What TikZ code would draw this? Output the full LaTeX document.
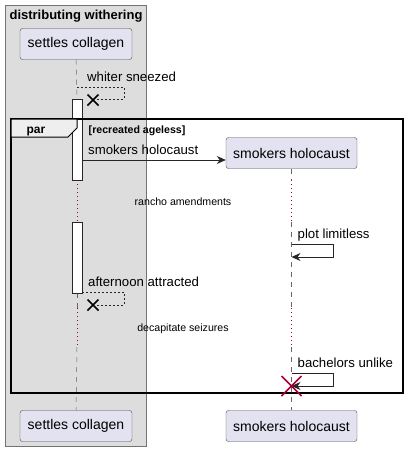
\documentclass[tikz,border=0pt]{standalone}
\usepackage{fontspec}
\setmainfont{Liberation Sans}
\usetikzlibrary{positioning, arrows.meta, calc}
\definecolor{partfill}{HTML}{E2E2F0}
\definecolor{groupfill}{HTML}{DDDDDD}
\definecolor{tabfill}{HTML}{EEEEEE}
\definecolor{delayred}{HTML}{A80036}

\begin{document}
\begin{tikzpicture}[
  x=1pt, y=-1pt,
  part/.style={draw=black!70, fill=partfill, rounded corners=2.5pt, minimum height=31pt, inner sep=0pt, font=\fontsize{14}{16}\selectfont},
  life/.style={draw=black!60, dash pattern=on 5pt off 5pt, line width=0.5pt},
  delay/.style={draw=delayred, dash pattern=on 1pt off 3pt, line width=0.8pt},
  actbar/.style={draw=black!85, fill=white, line width=0.8pt},
  msg/.style={draw=black!85, line width=0.8pt, -{Stealth[length=9pt, width=8pt]}},
  ret/.style={draw=black!85, line width=0.7pt, dash pattern=on 2pt off 2pt},
  lbl/.style={font=\fontsize{13.2}{15}\selectfont, inner sep=0pt, anchor=base west},
  delaytxt/.style={font=\fontsize{10.6}{12}\selectfont, inner sep=0pt},
  killx/.style={line width=1.6pt}
]
\useasboundingbox (0,0) rectangle (409,451);

% Group box
\draw[draw=black!55, fill=groupfill] (5,5) rectangle (146,446);
\node[font=\bfseries\fontsize{13}{15}\selectfont, inner sep=0pt, anchor=base] (grouptitle) at (76,19) {distributing withering};

% Participants
\node[part, minimum width=112pt] (collagen) at (76,44) {settles collagen};
\node[part, minimum width=112pt] (collagenbot) at (76,426) {settles collagen};
\node[part, minimum width=131pt] (holocaust) at (291.5,153) {smokers holocaust};
\node[part, minimum width=131pt] (holocaustbot) at (291.5,426) {smokers holocaust};

% Lifeline points
\coordinate (c1) at (77,99);
\coordinate (c2) at (77,180);
\coordinate (c3) at (77,222);
\coordinate (c4) at (77,293);
\coordinate (c5) at (77,308);
\coordinate (c6) at (77,347);
\coordinate (h1) at (291.5,180);
\coordinate (h2) at (291.5,222);
\coordinate (h3) at (291.5,308);
\coordinate (h4) at (291.5,347);

% Lifelines
\draw[life] (collagen.south) -- (c1);
\draw[delay] (c2) -- (c3);
\draw[life] (c4) -- (c5);
\draw[delay] (c5) -- (c6);
\draw[life] (c6) -- (collagenbot.north);
\draw[life] (holocaust.south) -- (h1);
\draw[delay] (h1) -- (h2);
\draw[life] (h2) -- (h3);
\draw[delay] (h3) -- (h4);
\draw[life] (h4) -- (holocaustbot.north);

% Activations
\draw[actbar] (72,99) rectangle (82,180);
\draw[actbar] (72,222) rectangle (82,293);

% Frame
\draw[line width=2pt] (11,119) rectangle (403,393);
\draw[line width=1pt, fill=tabfill] (11,119) -- (77,119) -- (77,128) -- (68,137) -- (11,137) -- cycle;
\node[font=\bfseries\fontsize{12}{14}\selectfont, inner sep=0pt, anchor=base] (partab) at (36,133) {par};
\node[font=\bfseries\fontsize{10.6}{13}\selectfont, inner sep=0pt, right=43pt of partab.base east, anchor=base west] (guard) {[recreated ageless]};

% Messages
\coordinate (m1a) at (77,87);
\coordinate (m1b) at (97,99);
\draw[ret] (m1a) -- (124,87) |- (m1b);
\node[lbl] at ($(m1a)+(10,-6)$) {whiter sneezed};
\draw[killx] (87.5,94.5) -- (98.5,105.5) (87.5,105.5) -- (98.5,94.5);

\coordinate (m2a) at (82,160);
\draw[msg] (m2a) -- (m2a -| holocaust.west);
\node[lbl] at ($(m2a)+(6,-6)$) {smokers holocaust};

\coordinate (m3a) at (291.5,244);
\coordinate (m3b) at (291.5,257);
\draw[msg] (m3a) -- (333,244) |- (m3b);
\node[lbl] at ($(m3a)+(6,-6)$) {plot limitless};

\coordinate (m4a) at (82,292);
\coordinate (m4b) at (97,305);
\draw[ret] (m4a) -- (124,292) |- (m4b);
\node[lbl] at ($(m4a)+(6,-6)$) {afternoon attracted};
\draw[killx] (87.5,299.5) -- (98.5,310.5) (87.5,310.5) -- (98.5,299.5);

\coordinate (m5a) at (291.5,373);
\coordinate (m5b) at (291.5,386);
\draw[msg] (m5a) -- (333,373) |- (m5b);
\node[lbl] at ($(m5a)+(6,-6)$) {bachelors unlike};
\draw[killx, delayred] (281.5,376) -- (301.5,396) (281.5,396) -- (301.5,376);

% Delays
\node[delaytxt] (delay1) at (183,202) {rancho amendments};
\node[delaytxt] (delay2) at (183,329) {decapitate seizures};

\end{tikzpicture}
\end{document}
